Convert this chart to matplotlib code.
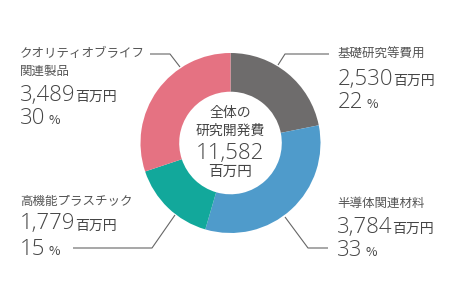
import matplotlib
matplotlib.use('Agg')
import matplotlib.pyplot as plt

plt.rcParams['font.family'] = ['Noto Sans CJK JP', 'DejaVu Sans']

names = ['基礎研究等費用', '半導体関連材料', '高機能プラスチック', 'クオリティオブライフ\n関連製品']
values = [2530, 3784, 1779, 3489]
shares = [22, 33, 15, 30]
total = 11582
colors = ['#6e6c6c', '#4f9bcb', '#12a89b', '#e57282']

W, H = 455, 298
cx, cy, R = 230.5, 143, 90

fig = plt.figure(figsize=(W / 100, H / 100), dpi=100)

# donut
pax = fig.add_axes([(cx - R) / W, (H - cy - R) / H, 2 * R / W, 2 * R / H])
pax.pie(values, colors=colors, startangle=90, counterclock=False, radius=1,
        wedgeprops=dict(width=0.43, edgecolor='none'))
pax.set_xlim(-1, 1)
pax.set_ylim(-1, 1)
pax.set_aspect('auto')
pax.axis('off')

# overlay in pixel coords
ax = fig.add_axes([0, 0, 1, 1])
ax.set_xlim(0, W)
ax.set_ylim(H, 0)
ax.axis('off')

txt = '#454545'
lab = '#555555'
numfont = ['Open Sans', 'DejaVu Sans']

# leader lines
lines = [
    [(278, 65), (285, 54), (329, 54)],
    [(285, 217), (308, 248), (328, 248)],
    [(175, 215), (152, 248), (73, 248)],
    [(180, 67), (170, 54), (150, 54)],
]
for pts in lines:
    xs, ys = zip(*pts)
    ax.plot(xs, ys, color='#666666', lw=0.8, solid_capstyle='butt')

# label positions: (x, label y, number baseline, percent baseline)
pos = [
    (338, 54, 85, 108.5),
    (337, 203.5, 233, 256),
    (20, 201.5, 229.5, 255),
    (20, 54, 101, 124.5),
]

fig.canvas.draw()
rend = fig.canvas.get_renderer()


def unit_after(t, s, size, gap, y, **kw):
    bb = t.get_window_extent(renderer=rend)
    x1 = ax.transData.inverted().transform((bb.x1, bb.y0))[0]
    ax.text(x1 + gap, y, s, fontsize=size, color=txt, va='baseline', ha='left', **kw)


for (x, ly, nb, pb), name, v, p in zip(pos, names, values, shares):
    for i, line in enumerate(name.split('\n')):
        ax.text(x, ly + 17.5 * i, line, fontsize=9, color=lab, va='center', ha='left')
    tn = ax.text(x, nb, f'{v:,}', fontsize=16, color=txt, va='baseline', ha='left',
                 family=numfont, fontweight='light')
    unit_after(tn, '百万円', 10, 0, nb)
    tp = ax.text(x, pb, f'{p}', fontsize=16, color=txt, va='baseline', ha='left',
                 family=numfont, fontweight='light')
    unit_after(tp, '%', 9, 3, pb)

# centre text
ax.text(cx, 113, '全体の', fontsize=10, color=txt, ha='center', va='center')
ax.text(cx, 130.5, '研究開発費', fontsize=10, color=txt, ha='center', va='center')
ax.text(cx, 159, f'{total:,}', fontsize=16, color=txt, ha='center', va='baseline',
        family=numfont, fontweight='light')
ax.text(cx, 172, '百万円', fontsize=10.5, color=txt, ha='center', va='center')

fig.savefig('out.png', dpi=100)
